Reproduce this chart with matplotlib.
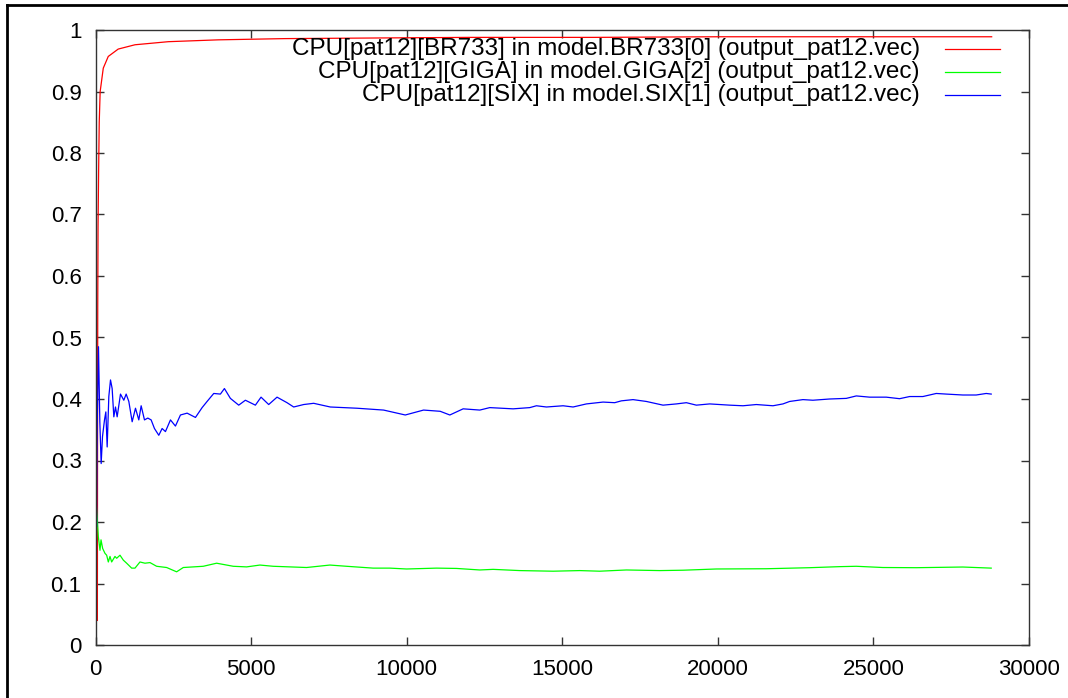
import matplotlib
matplotlib.use('Agg')
import matplotlib.pyplot as plt
from matplotlib.ticker import FormatStrFormatter, MultipleLocator

plt.rcParams['font.family'] = ['Liberation Sans', 'DejaVu Sans']

# CPU[pat12][BR733]
red_x = [60, 65, 72, 82, 100, 120, 150, 250, 410, 730, 1270, 2340, 3950, 6090,
         9000, 12000, 16000, 20000, 24000, 28800]
red_y = [0.04, 0.30, 0.55, 0.68, 0.77, 0.85, 0.90, 0.938, 0.957, 0.969, 0.976,
         0.981, 0.984, 0.986, 0.987, 0.988, 0.988, 0.989, 0.989, 0.989]

# CPU[pat12][GIGA]
green_x = [0, 8, 16, 59, 91, 145, 177, 230, 305, 359, 412, 466, 519, 626,
           680, 787, 894, 1001, 1162, 1269, 1429, 1590, 1751, 1965, 2286,
           2607, 2821, 3142, 3463, 3892, 4106, 4427, 4856, 5284, 5712, 6247,
           6783, 7532, 8068, 8924, 9460, 9996, 10959, 11601, 12350, 12778,
           13635, 14706, 15563, 16205, 17062, 18132, 18881, 19952, 21558,
           22950, 23913, 24450, 25305, 26377, 27875, 28786]
green_y = [0.25, 0.36, 0.236, 0.203, 0.176, 0.154, 0.171, 0.157, 0.149,
           0.146, 0.135, 0.144, 0.135, 0.144, 0.141, 0.146, 0.138, 0.133,
           0.125, 0.125, 0.135, 0.133, 0.134, 0.128, 0.126, 0.119, 0.126,
           0.127, 0.128, 0.133, 0.131, 0.128, 0.127, 0.130, 0.128, 0.127,
           0.126, 0.130, 0.128, 0.125, 0.125, 0.1236, 0.125, 0.1245, 0.122,
           0.123, 0.121, 0.120, 0.121, 0.120, 0.122, 0.121, 0.1216, 0.1236,
           0.124, 0.1257, 0.1274, 0.128, 0.126, 0.1257, 0.1268, 0.125]

# CPU[pat12][SIX]
blue_x = [0, 20, 32, 54, 96, 139, 182, 225, 289, 332, 375, 428, 482, 535,
          589, 642, 696, 803, 910, 985, 1071, 1178, 1285, 1392, 1467, 1574,
          1681, 1788, 1895, 2034, 2141, 2248, 2409, 2569, 2730, 2944, 3212,
          3426, 3586, 3800, 4014, 4143, 4335, 4603, 4817, 5138, 5320, 5566,
          5834, 6155, 6369, 6690, 7011, 7546, 8403, 9259, 9955, 10543, 11078,
          11387, 11815, 12350, 12671, 13420, 13956, 14170, 14492, 15027,
          15348, 15776, 16311, 16686, 16900, 17275, 17704, 18238, 18667,
          18989, 19310, 19738, 20380, 20808, 21237, 21772, 22093, 22307,
          22735, 23056, 23592, 24128, 24450, 24878, 25413, 25841, 26163,
          26590, 27019, 27340, 27875, 28303, 28625, 28786]
blue_y = [0.20, 0.33, 0.192, 0.355, 0.485, 0.363, 0.295, 0.339, 0.366,
          0.379, 0.322, 0.404, 0.431, 0.417, 0.371, 0.387, 0.371, 0.408,
          0.398, 0.408, 0.396, 0.363, 0.385, 0.366, 0.389, 0.366, 0.369,
          0.366, 0.352, 0.341, 0.352, 0.347, 0.366, 0.356, 0.374, 0.377,
          0.370, 0.386, 0.396, 0.409, 0.408, 0.417, 0.401, 0.390, 0.398,
          0.390, 0.403, 0.391, 0.403, 0.394, 0.387, 0.391, 0.393, 0.387,
          0.385, 0.382, 0.374, 0.382, 0.380, 0.374, 0.384, 0.382, 0.386,
          0.384, 0.386, 0.389, 0.387, 0.389, 0.387, 0.392, 0.395, 0.394,
          0.397, 0.399, 0.396, 0.390, 0.392, 0.394, 0.390, 0.392, 0.390,
          0.389, 0.391, 0.389, 0.392, 0.396, 0.399, 0.398, 0.400, 0.401,
          0.405, 0.403, 0.403, 0.4005, 0.404, 0.404, 0.409, 0.408, 0.4065,
          0.4065, 0.409, 0.408]

labels = ['CPU[pat12][BR733] in model.BR733[0] (output_pat12.vec)',
          'CPU[pat12][GIGA] in model.GIGA[2] (output_pat12.vec)',
          'CPU[pat12][SIX] in model.SIX[1] (output_pat12.vec)']
colors = ['#ff0000', '#00ff00', '#0000ff']

fig = plt.figure(figsize=(10.68, 6.98), dpi=100)
ax = fig.add_axes([95.5 / 1068, 1 - 645 / 698, (1029 - 95.5) / 1068, (645 - 30) / 698])

ax.plot(red_x, red_y, color=colors[0], lw=0.9)
ax.plot(green_x, green_y, color=colors[1], lw=0.9)
ax.plot(blue_x, blue_y, color=colors[2], lw=0.9)

ax.set_xlim(0, 30000)
ax.set_ylim(0, 1)
ax.xaxis.set_major_locator(MultipleLocator(5000))
ax.yaxis.set_major_locator(MultipleLocator(0.1))
ax.yaxis.set_major_formatter(FormatStrFormatter('%g'))
ax.tick_params(direction='in', length=6, width=1, top=True, right=True,
               labelsize=16, color='#333333')
ax.tick_params(axis='x', pad=10)
ax.tick_params(axis='y', pad=10)
for s in ax.spines.values():
    s.set_linewidth(1)
    s.set_color('#333333')

#gnuplot style key: right aligned text, sample line to its right
row_y = [0.969, 0.932, 0.895]
for lab, c, yy in zip(labels, colors, row_y):
    ax.text(0.883, yy, lab, transform=ax.transAxes, ha='right', va='center', fontsize=17.5)
    ax.plot([0.910, 0.969], [yy, yy], color=c, lw=0.9, transform=ax.transAxes)

# outer frame of the original screenshot (left and top edges only)
fig.add_artist(plt.Line2D([7 / 1068, 7 / 1068], [0, 1 - 5 / 698], color='black', lw=2,
                          transform=fig.transFigure))
fig.add_artist(plt.Line2D([7 / 1068, 1], [1 - 5 / 698, 1 - 5 / 698], color='black', lw=2,
                          transform=fig.transFigure))

fig.savefig('out.png', dpi=100)
